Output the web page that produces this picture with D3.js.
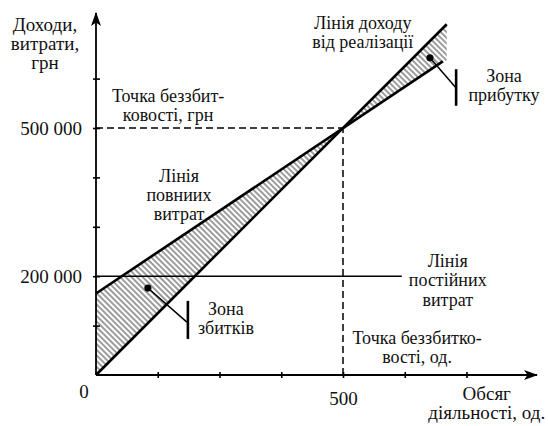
<!DOCTYPE html>
<html>
<head>
<meta charset="utf-8">
<script src="https://cdn.jsdelivr.net/npm/d3@7"></script>
<style>
  html, body { margin: 0; padding: 0; background: #fff; }
  svg { display: block; }
  text { font-family: "Liberation Serif", "Times New Roman", serif; fill: #111; }
</style>
</head>
<body>
<svg id="chart" width="548" height="426"></svg>
<script>
// Break-even chart: volume (units) vs. revenue / costs (UAH)
const revenueLine = [[0, 0], [710, 710000]];
const totalCostLine = [[0, 165000], [702, 635000]];
const fixedCostLine = [[0, 200000], [619, 200000]];
const breakEven = { units: 500, value: 500000 };
const lossZone = [[0, 0], [0, 165000], [500, 500000]];
const profitZone = [[500, 500000], [710, 710000], [710, 637000]];
const xTicks = [125, 250, 375, 500, 625, 750];
const yTicks = [100000, 200000, 300000, 400000, 500000, 600000];
const xTickLabels = [500];
const yTickLabels = [200000, 500000];

const svg = d3.select("#chart");
const x = d3.scaleLinear().domain([0, 500]).range([96, 343]);
const y = d3.scaleLinear().domain([0, 500000]).range([375, 128]);
const fmt = v => d3.format(",")(v).replace(/,/g, " ");

// hatch pattern for zones
const defs = svg.append("defs");
defs.append("pattern")
  .attr("id", "hatch")
  .attr("patternUnits", "userSpaceOnUse")
  .attr("width", 4).attr("height", 4)
  .attr("patternTransform", "rotate(-45)")
  .append("line")
  .attr("x1", 1).attr("y1", 0).attr("x2", 1).attr("y2", 4)
  .attr("stroke", "#3a3a3a").attr("stroke-width", 1);

defs.append("marker")
  .attr("id", "arrow")
  .attr("viewBox", "0 0 14 10")
  .attr("refX", 13).attr("refY", 5)
  .attr("markerWidth", 14).attr("markerHeight", 10)
  .attr("markerUnits", "userSpaceOnUse")
  .attr("orient", "auto")
  .append("path")
  .attr("d", "M0,0 L14,5 L0,10 L3.5,5 Z")
  .attr("fill", "#000");

const line = d3.line().x(d => x(d[0])).y(d => y(d[1]));
const area = d3.line().x(d => x(d[0])).y(d => y(d[1])).curve(d3.curveLinearClosed);

// hatched zones
svg.append("path").attr("d", area(lossZone)).attr("fill", "url(#hatch)");
svg.append("path").attr("d", area(profitZone)).attr("fill", "url(#hatch)");

// dashed break-even guides
svg.append("path")
  .attr("d", line([[0, breakEven.value], [breakEven.units, breakEven.value]]))
  .attr("stroke", "#000").attr("stroke-width", 1.5).attr("stroke-dasharray", "7,4").attr("fill", "none");
svg.append("path")
  .attr("d", line([[breakEven.units, 0], [breakEven.units, breakEven.value]]))
  .attr("stroke", "#000").attr("stroke-width", 1.5).attr("stroke-dasharray", "7,4").attr("fill", "none");

// axes
const xAxis = d3.axisBottom(x).tickValues(xTicks).tickSize(0)
  .tickFormat(d => xTickLabels.includes(d) ? fmt(d) : "");
const gx = svg.append("g").attr("transform", `translate(0,${y(0)})`).call(xAxis);
gx.select(".domain").remove();
gx.selectAll(".tick line").attr("y1", -3).attr("y2", 3).attr("stroke", "#000").attr("stroke-width", 1.6);
gx.selectAll(".tick text").attr("dy", 0).attr("y", 30).style("font-size", "19px")
  .attr("font-family", null);

const yAxis = d3.axisLeft(y).tickValues(yTicks).tickSize(0)
  .tickFormat(d => yTickLabels.includes(d) ? fmt(d) : "");
const gy = svg.append("g").attr("transform", `translate(${x(0)},0)`).call(yAxis);
gy.select(".domain").remove();
gy.selectAll(".tick line").attr("x1", -3).attr("x2", 4).attr("stroke", "#000").attr("stroke-width", 1.6);
gy.selectAll(".tick text").attr("x", -14).attr("dy", "0.35em").style("font-size", "19px")
  .attr("font-family", null);

svg.append("line")
  .attr("x1", x(0)).attr("y1", y(0)).attr("x2", 537).attr("y2", y(0))
  .attr("stroke", "#000").attr("stroke-width", 1.8).attr("marker-end", "url(#arrow)");
svg.append("line")
  .attr("x1", x(0)).attr("y1", y(0)).attr("x2", x(0)).attr("y2", 13)
  .attr("stroke", "#000").attr("stroke-width", 1.8).attr("marker-end", "url(#arrow)");

svg.append("text").attr("x", x(0) - 12).attr("y", y(0) + 23)
  .attr("text-anchor", "middle").style("font-size", "19px").text("0");

// cost and revenue lines
svg.append("path").attr("d", line(fixedCostLine))
  .attr("stroke", "#000").attr("stroke-width", 1.6).attr("fill", "none");
svg.append("path").attr("d", line(totalCostLine))
  .attr("stroke", "#000").attr("stroke-width", 2.6).attr("fill", "none");
svg.append("path").attr("d", line(revenueLine))
  .attr("stroke", "#000").attr("stroke-width", 2.6).attr("fill", "none");

// zone pointers
function pointer(dot, end, barX, barTop, barBottom) {
  svg.append("line")
    .attr("x1", x(dot[0])).attr("y1", y(dot[1])).attr("x2", x(end[0])).attr("y2", y(end[1]))
    .attr("stroke", "#000").attr("stroke-width", 1.5);
  svg.append("circle").attr("cx", x(dot[0])).attr("cy", y(dot[1])).attr("r", 3.6).attr("fill", "#000");
  svg.append("line")
    .attr("x1", x(barX)).attr("y1", y(barTop)).attr("x2", x(barX)).attr("y2", y(barBottom))
    .attr("stroke", "#000").attr("stroke-width", 2.6);
}
pointer([105, 176000], [184, 107000], 186, 150000, 73000);
pointer([676, 642000], [729, 581000], 729, 619000, 545000);

// labels
function label(lines, cx, baseline, lh, size) {
  const t = svg.append("text").attr("text-anchor", "middle").style("font-size", (size || 18) + "px");
  lines.forEach((s, i) => {
    t.append("tspan").attr("x", cx).attr("y", baseline + i * lh).text(s);
  });
}
label(["Доходи,", "витрати,", "грн"], 45, 31, 19, 19);
label(["Точка беззбит-", "ковості, грн"], x(146), y(553000), 19);
label(["Лінія доходу", "від реалізації"], x(540), y(700000), 19);
label(["Лінія", "повниих", "витрат"], x(168), y(391000), 19);
label(["Лінія", "постійних", "витрат"], x(712), y(219000), 19.5);
label(["Точка беззбитко-", "вості, од."], x(650), y(63000), 19);
label(["Зона", "збитків"], x(263), y(121000), 19);
label(["Зона", "прибутку"], x(826), y(593000), 19);
label(["Обсяг", "діяльності, од."], x(791), y(0) + 25, 19, 19);
</script>
</body>
</html>
